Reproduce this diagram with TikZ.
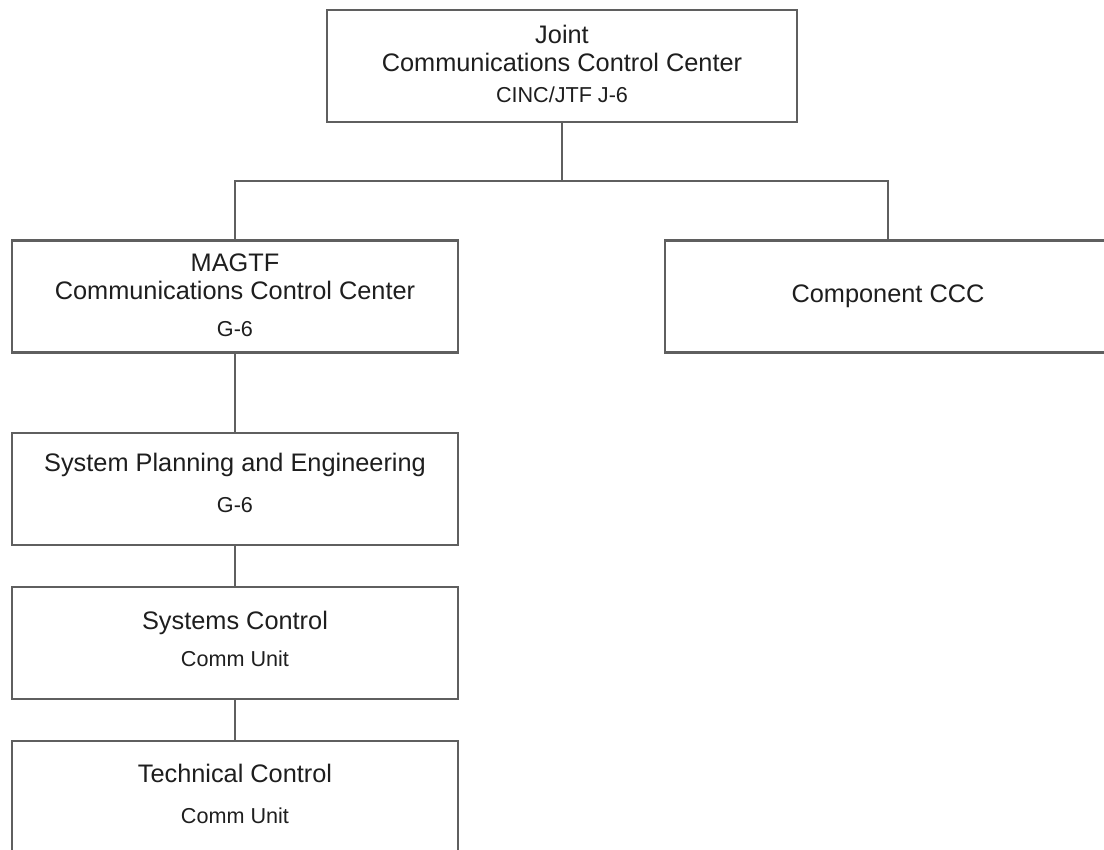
\documentclass[tikz,border=0pt]{standalone}
\usepackage{fontspec}
\setmainfont{Liberation Sans}
\usetikzlibrary{calc}
\definecolor{edgegray}{HTML}{5F5F5F}
\definecolor{inkgray}{HTML}{1E1E1E}
\begin{document}
\begin{tikzpicture}[x=0.75pt,y=-0.75pt,
  orgbox/.style={draw=edgegray,line width=1.6pt,fill=white,rectangle,inner sep=0pt},
  wide/.style={orgbox,minimum width=334.5pt,minimum height=84pt},
  topbox/.style={orgbox,minimum width=352.5pt,minimum height=84pt},
  title/.style={anchor=base,inner sep=0pt,text=inkgray,font=\fontsize{19}{22}\selectfont},
  sub/.style={anchor=base,inner sep=0pt,text=inkgray,font=\fontsize{16.2}{19}\selectfont},
  link/.style={draw=edgegray,line width=1.6pt}]
  \clip (0,0) rectangle (1104,850);
  \fill[white] (0,0) rectangle (1104,850);

  % boxes
  \node[topbox] (joint) at (562,66) {};
  \node[wide] (magtf) at (235,296.5) {};
  \node[wide] (comp) at (888,296.5) {};
  \node[wide] (plan) at (235,489) {};
  \node[wide] (sysctl) at (235,643) {};
  \node[wide] (tech) at (235,797) {};
  \coordinate (bus) at (562,181);

  % connectors
  \draw[link] (joint.south) -- (bus);
  \draw[link] (magtf.north) |- (bus) -| (comp.north);
  \draw[link] (magtf.south) -- (plan.north);
  \draw[link] (plan.south) -- (sysctl.north);
  \draw[link] (sysctl.south) -- (tech.north);

  % texts
  \node[title] (jointA) at ($(joint.north)+(0,35)$) {Joint};
  \node[title] (jointB) at ($(joint.north)+(0,63)$) {Communications Control Center};
  \node[sub]   (jointC) at ($(joint.north)+(0,94)$) {CINC/JTF J-6};

  \node[title] (magtfA) at ($(magtf.north)+(0,32)$) {MAGTF};
  \node[title] (magtfB) at ($(magtf.north)+(0,60)$) {Communications Control Center};
  \node[sub]   (magtfC) at ($(magtf.north)+(0,97)$) {G-6};

  \node[title] (compA) at ($(comp.north)+(0,63)$) {Component CCC};

  \node[title] (planA) at ($(plan.north)+(0,40)$) {System Planning and Engineering};
  \node[sub]   (planB) at ($(plan.north)+(0,81)$) {G-6};

  \node[title] (sysctlA) at ($(sysctl.north)+(0,44)$) {Systems Control};
  \node[sub]   (sysctlB) at ($(sysctl.north)+(0,81)$) {Comm Unit};

  \node[title] (techA) at ($(tech.north)+(0,43)$) {Technical Control};
  \node[sub]   (techB) at ($(tech.north)+(0,84)$) {Comm Unit};
\end{tikzpicture}
\end{document}
